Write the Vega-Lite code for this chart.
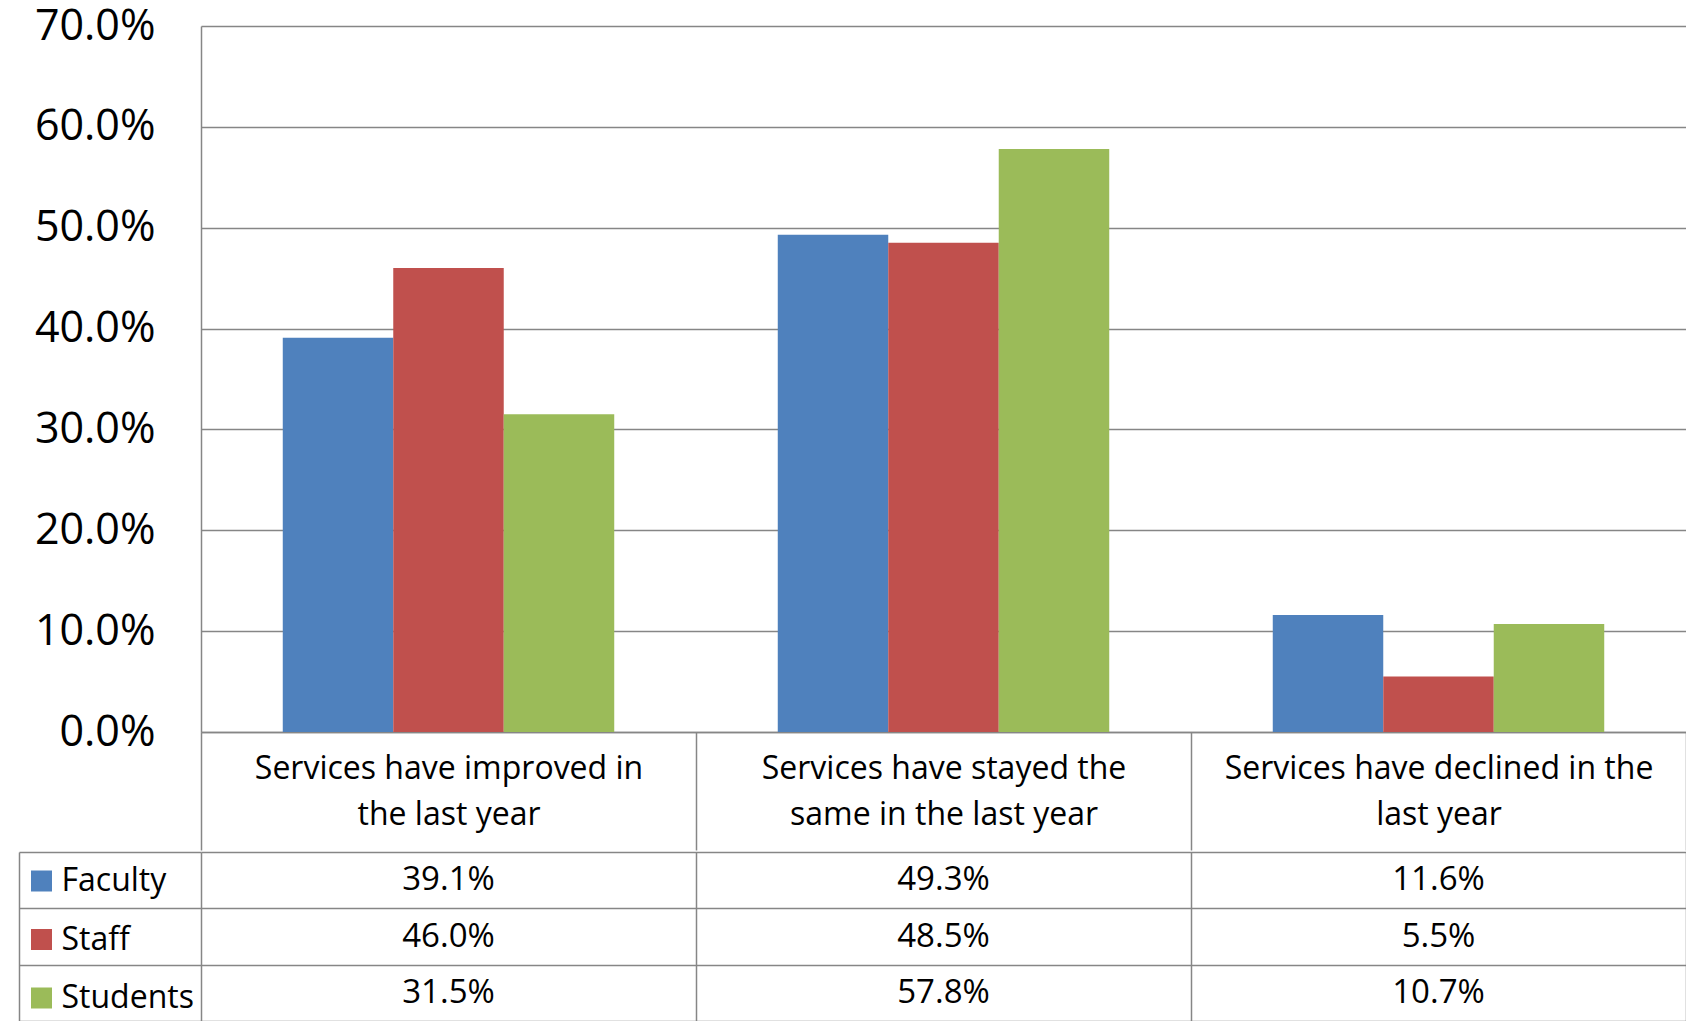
{
  "$schema": "https://vega.github.io/schema/vega-lite/v6.json",
  "padding": {"left": 18, "top": 5, "right": 0, "bottom": 0},
  "spacing": 0,
  "config": {"view": {"stroke": null}, "font": "Open Sans"},
  "datasets": {
    "survey": [
      {"category": "Services have improved in the last year", "group": "Faculty", "value": 0.391},
      {"category": "Services have improved in the last year", "group": "Staff", "value": 0.460},
      {"category": "Services have improved in the last year", "group": "Students", "value": 0.315},
      {"category": "Services have stayed the same in the last year", "group": "Faculty", "value": 0.493},
      {"category": "Services have stayed the same in the last year", "group": "Staff", "value": 0.485},
      {"category": "Services have stayed the same in the last year", "group": "Students", "value": 0.578},
      {"category": "Services have declined in the last year", "group": "Faculty", "value": 0.116},
      {"category": "Services have declined in the last year", "group": "Staff", "value": 0.055},
      {"category": "Services have declined in the last year", "group": "Students", "value": 0.107}
    ]
  },
  "vconcat": [
    {
      "width": 1485,
      "height": 706,
      "data": {"name": "survey"},
      "mark": {"type": "bar"},
      "encoding": {
        "x": {
          "field": "category", "type": "nominal",
          "sort": ["Services have improved in the last year", "Services have stayed the same in the last year", "Services have declined in the last year"],
          "scale": {"paddingInner": 0, "paddingOuter": 0},
          "axis": {
            "title": null, "labelAngle": 0,
            "labelExpr": "datum.value == 'Services have improved in the last year' ? ['Services have improved in', 'the last year'] : datum.value == 'Services have stayed the same in the last year' ? ['Services have stayed the', 'same in the last year'] : datum.value == 'Services have declined in the last year' ? ['Services have declined in the', 'last year'] : ''",
            "labelFontSize": 32, "labelLineHeight": 46, "labelBaseline": "middle", "labelPadding": -82,
            "labelColor": "#000000", "labelOverlap": false, "labelLimit": 0,
            "tickBand": "extent", "tickSize": 118, "tickColor": "#868686", "tickWidth": 1.5,
            "domainColor": "#868686", "domainWidth": 1.5
          }
        },
        "xOffset": {
          "field": "group", "type": "nominal", "sort": ["Faculty", "Staff", "Students"],
          "scale": {"paddingInner": 0, "paddingOuter": 0.74}
        },
        "y": {
          "field": "value", "type": "quantitative",
          "scale": {"domain": [0, 0.7]},
          "axis": {
            "title": null, "format": ".1%", "values": [0, 0.1, 0.2, 0.3, 0.4, 0.5, 0.6, 0.7],
            "grid": true, "gridColor": "#868686", "gridWidth": 1.5,
            "ticks": false, "domain": true, "domainColor": "#868686", "domainWidth": 1.5,
            "labelFontSize": 43, "labelPadding": 46, "labelColor": "#000000"
          }
        },
        "color": {
          "field": "group", "type": "nominal",
          "scale": {"domain": ["Faculty", "Staff", "Students"], "range": ["#4F81BD", "#C0504D", "#9BBB59"]},
          "legend": {
            "title": null, "orient": "none", "legendX": -175.5, "legendY": 839,
            "symbolType": "square", "symbolSize": 441, "symbolStrokeWidth": 0, "symbolOpacity": 1,
            "labelFontSize": 32, "labelOffset": 4, "rowPadding": 26.5, "padding": 0, "labelColor": "#000000"
          }
        }
      }
    },
    {
      "width": 1485,
      "height": 169,
      "data": {"name": "survey"},
      "layer": [
        {
          "mark": {"type": "text", "fontSize": 33, "color": "#000000"},
          "encoding": {
            "x": {
              "field": "category", "type": "nominal",
              "sort": ["Services have improved in the last year", "Services have stayed the same in the last year", "Services have declined in the last year"],
              "scale": {"paddingInner": 0, "paddingOuter": 0},
              "axis": {"title": null, "labels": false, "ticks": false, "domain": false, "grid": true, "tickBand": "extent", "gridColor": "#868686", "gridWidth": 1.5}
            },
            "y": {
              "field": "group", "type": "nominal", "sort": ["Faculty", "Staff", "Students"],
              "scale": {"paddingInner": 0, "paddingOuter": 0},
              "axis": {"title": null, "labels": false, "domain": false, "ticks": true, "tickSize": 182, "tickBand": "extent", "tickColor": "#868686", "tickWidth": 1.5, "grid": true, "gridColor": "#868686", "gridWidth": 1.5}
            },
            "text": {"field": "value", "type": "quantitative", "format": ".1%"}
          }
        },
        {
          "mark": {"type": "tick", "opacity": 0},
          "encoding": {
            "y": {
              "field": "group", "type": "nominal", "sort": ["Faculty", "Staff", "Students"],
              "axis": {"orient": "left", "offset": 182, "title": null, "labels": false, "ticks": false, "grid": false, "domain": true, "domainColor": "#868686", "domainWidth": 1.5}
            }
          }
        }
      ],
      "resolve": {"axis": {"y": "independent"}}
    }
  ]
}
